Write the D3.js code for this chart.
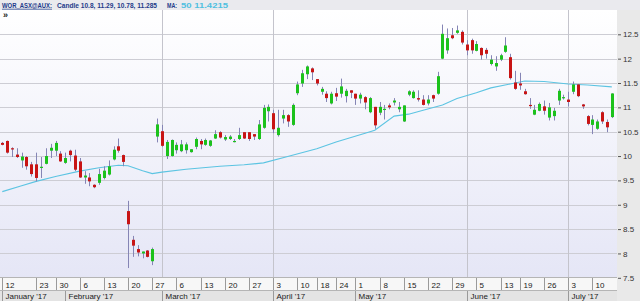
<!DOCTYPE html>
<html>
<head>
<meta charset="utf-8">
<script src="https://cdnjs.cloudflare.com/ajax/libs/d3/7.8.5/d3.min.js"></script>
<style>
  html, body { margin: 0; padding: 0; background: #fff; }
  svg { display: block; }
  text { font-family: "Liberation Sans", Arial, sans-serif; }
</style>
</head>
<body>
<div id="chart"></div>
<script>
// trading days on the chart, per month of 2017
var months = ["2017-01", "2017-02", "2017-03", "2017-04", "2017-05", "2017-06", "2017-07"];
var monthNames = ["January '17", "February '17", "March '17", "April '17", "May '17", "June '17", "July '17"];
var tradingDays = [
    [12, 13, 16, 17, 18, 19, 20, 23, 24, 25, 27, 30, 31],
    [1, 2, 3, 6, 7, 8, 9, 10, 13, 14, 15, 16, 17, 20, 21, 22, 23, 24, 27, 28],
    [1, 2, 3, 6, 7, 8, 9, 10, 13, 14, 15, 16, 17, 20, 21, 22, 23, 24, 27, 28, 29, 30, 31],
    [3, 4, 5, 6, 7, 10, 11, 12, 13, 18, 19, 20, 21, 24, 26, 27, 28],
    [1, 2, 3, 4, 5, 8, 9, 10, 11, 12, 15, 16, 17, 18, 19, 22, 23, 24, 25, 26, 29, 30, 31],
    [1, 2, 5, 6, 7, 8, 9, 13, 14, 15, 16, 19, 20, 21, 22, 23, 26, 27, 28, 29, 30],
    [3, 4, 5, 6, 7, 10, 11, 12, 13, 14]
];

var opens = [
    10.27, 10.31, 10.16, 10.03, 9.91, 9.98, 9.83, 9.83, 9.76, 9.84, 10.11, 10.11, 10.05,
    9.86, 10.11, 10.01, 9.89, 9.56, 9.56, 9.41, 9.45, 9.55, 9.62, 9.93, 10.20, 10.02, 8.87, 8.28, 8.09, 8.00, 8.06, 7.84, 10.40,
    10.51, 10.00, 10.00, 10.12, 10.10, 10.12, 10.08, 10.19, 10.31, 10.23, 10.21, 10.36, 10.49, 10.34, 10.35, 10.30, 10.35, 10.49, 10.49, 10.45, 10.35, 10.58, 10.92,
    10.88, 10.43, 10.77, 10.84, 10.64, 11.29, 11.49, 11.68, 11.80, 11.58, 11.32, 11.28, 11.08, 11.29, 11.28, 11.23, 11.35,
    11.28, 11.18, 11.21, 10.90, 11.01, 10.89, 10.95, 11.04, 11.10, 10.96, 10.71, 11.26, 11.19, 11.19, 11.16, 11.08, 11.25, 11.28, 12.00, 12.17, 12.48, 12.53, 12.55,
    12.29, 12.38, 12.16, 12.22, 12.18, 11.89, 11.84, 11.98, 12.14, 12.03, 11.51, 11.49, 11.33, 11.05, 10.85, 10.93, 11.02, 10.79, 10.82, 11.14, 11.19,
    11.16, 11.32, 11.47, 11.06, 10.82, 10.64, 10.56, 10.90, 10.70, 10.80
];
var highs = [
    10.29, 10.32, 10.18, 10.16, 10.07, 10.00, 9.88, 10.07, 9.98, 10.16, 10.25, 10.31, 10.10,
    10.07, 10.13, 10.13, 9.96, 9.69, 9.65, 9.42, 9.74, 9.79, 9.91, 10.20, 10.36, 10.03, 9.08, 8.36, 8.17, 8.04, 8.07, 8.12, 10.77,
    10.64, 10.33, 10.34, 10.28, 10.33, 10.28, 10.14, 10.38, 10.35, 10.36, 10.33, 10.53, 10.51, 10.43, 10.43, 10.35, 10.58, 10.49, 10.49, 10.45, 10.74, 11.05, 11.06,
    10.95, 10.95, 10.95, 10.86, 11.08, 11.53, 11.77, 11.86, 11.82, 11.58, 11.42, 11.33, 11.32, 11.40, 11.59, 11.38, 11.35,
    11.28, 11.30, 11.23, 11.21, 11.01, 11.11, 11.05, 11.08, 11.19, 11.11, 11.04, 11.35, 11.35, 11.35, 11.25, 11.25, 11.26, 11.73, 12.70, 12.62, 12.63, 12.68, 12.58,
    12.38, 12.41, 12.36, 12.23, 12.22, 12.07, 12.05, 12.10, 12.44, 12.10, 11.75, 11.71, 11.38, 11.19, 11.05, 11.10, 11.14, 11.09, 10.99, 11.38, 11.26,
    11.32, 11.53, 11.48, 11.07, 10.84, 10.84, 10.75, 10.92, 10.75, 11.29
];
var lows = [
    10.22, 10.05, 9.98, 9.96, 9.76, 9.72, 9.58, 9.48, 9.55, 9.83, 9.96, 10.00, 9.88,
    9.84, 9.89, 9.69, 9.55, 9.43, 9.38, 9.34, 9.41, 9.52, 9.60, 9.91, 10.07, 9.79, 7.70, 7.93, 7.94, 7.90, 7.92, 7.76, 10.28,
    10.19, 9.94, 9.99, 10.05, 10.08, 10.05, 10.07, 10.14, 10.14, 10.21, 10.19, 10.35, 10.36, 10.31, 10.33, 10.28, 10.33, 10.35, 10.31, 10.33, 10.33, 10.56, 10.71,
    10.47, 10.40, 10.67, 10.60, 10.62, 11.25, 11.42, 11.58, 11.56, 11.45, 11.26, 11.11, 11.06, 11.13, 11.20, 11.10, 11.19,
    11.05, 11.08, 10.96, 10.88, 10.56, 10.84, 10.75, 10.96, 11.04, 10.90, 10.70, 11.23, 11.18, 11.12, 11.04, 11.04, 11.11, 11.26, 11.99, 12.10, 12.40, 12.51, 12.29,
    12.07, 12.10, 12.15, 11.98, 12.00, 11.86, 11.75, 11.95, 12.12, 11.57, 11.36, 11.36, 11.26, 10.97, 10.84, 10.92, 10.85, 10.73, 10.73, 11.05, 11.16,
    11.02, 11.27, 11.21, 10.97, 10.63, 10.45, 10.54, 10.66, 10.49, 10.78
];
var closes = [
    10.23, 10.07, 10.14, 9.98, 9.99, 9.79, 9.63, 9.55, 9.78, 10.00, 10.17, 10.27, 9.89,
    9.96, 10.02, 9.72, 9.56, 9.60, 9.48, 9.36, 9.63, 9.70, 9.79, 10.13, 10.11, 9.88, 8.60, 8.16, 8.02, 8.04, 7.93, 8.09, 10.65,
    10.21, 10.29, 10.33, 10.23, 10.24, 10.24, 10.14, 10.35, 10.24, 10.33, 10.32, 10.45, 10.38, 10.39, 10.40, 10.31, 10.43, 10.36, 10.35, 10.40, 10.65, 10.99, 11.01,
    10.55, 10.58, 10.84, 10.71, 11.05, 11.47, 11.70, 11.84, 11.72, 11.49, 11.38, 11.19, 11.28, 11.22, 11.43, 11.34, 11.30,
    11.18, 11.26, 11.10, 11.19, 10.63, 11.01, 10.97, 11.00, 11.14, 11.01, 11.04, 11.33, 11.32, 11.16, 11.05, 11.16, 11.18, 11.64, 12.51, 12.42, 12.42, 12.58, 12.33,
    12.17, 12.17, 12.30, 12.07, 12.10, 11.98, 11.91, 12.07, 12.27, 11.60, 11.38, 11.45, 11.27, 11.03, 10.95, 11.07, 10.93, 11.00, 10.93, 11.34, 11.21,
    11.11, 11.47, 11.23, 11.02, 10.66, 10.75, 10.71, 10.71, 10.59, 11.285
];

// 50 day moving average, read at a few dates
var maDates = ["2017-01-12", "2017-01-18", "2017-01-23", "2017-01-30", "2017-02-06", "2017-02-10", "2017-02-16",
    "2017-02-20", "2017-02-23", "2017-02-27", "2017-03-01", "2017-03-08", "2017-03-17", "2017-03-24", "2017-03-30",
    "2017-04-06", "2017-04-18", "2017-04-24", "2017-05-03", "2017-05-05", "2017-05-11", "2017-05-16", "2017-05-19",
    "2017-05-25", "2017-05-30", "2017-06-05", "2017-06-08", "2017-06-15", "2017-06-20", "2017-06-26", "2017-07-03",
    "2017-07-07", "2017-07-14"];
var maValues = [9.27, 9.39, 9.48, 9.58, 9.69, 9.76, 9.81,
    9.80, 9.70, 9.64, 9.67, 9.73, 9.79, 9.82, 9.86,
    9.99, 10.15, 10.29, 10.47, 10.53, 10.82, 10.86, 10.94,
    11.05, 11.18, 11.30, 11.40, 11.48, 11.54, 11.53, 11.48,
    11.46, 11.42];
var maLabel = "50 11.4215";

var priceTicks = [7.5, 8, 8.5, 9, 9.5, 10, 10.5, 11, 11.5, 12, 12.5];
var gridMonths = ["2017-03", "2017-04", "2017-06", "2017-07"];

var W = 640, H = 301;
var plotRight = 617, plotTop = 10, plotBottom = 277.5;

var dates = [];
months.forEach(function(m, mi) {
    tradingDays[mi].forEach(function(d) {
        dates.push(m + "-" + (d < 10 ? "0" + d : d));
    });
});
var candles = dates.map(function(d, i) {
    return { date: d, o: opens[i], h: highs[i], l: lows[i], c: closes[i] };
});

var x = d3.scalePoint().domain(dates).range([2.3, 611.8]);
var y = d3.scaleLinear().domain([7.5, 12.5]).range([277.8, 34.3]);

var svg = d3.select("#chart").append("svg")
    .attr("width", W)
    .attr("height", H);

var grad = svg.append("defs").append("linearGradient")
    .attr("id", "bg")
    .attr("x1", 0).attr("y1", 0).attr("x2", 0).attr("y2", 1);
grad.append("stop").attr("offset", "0%").attr("stop-color", "#ffffff");
grad.append("stop").attr("offset", "100%").attr("stop-color", "#e5e6f6");

// backgrounds
svg.append("rect").attr("x", 0).attr("y", plotTop).attr("width", plotRight).attr("height", plotBottom - plotTop)
    .attr("fill", "url(#bg)");
svg.append("rect").attr("x", plotRight).attr("y", plotTop).attr("width", W - plotRight).attr("height", H - plotTop)
    .attr("fill", "#e9e9e9");
svg.append("rect").attr("x", 0).attr("y", 0).attr("width", W).attr("height", plotTop)
    .attr("fill", "#eaeaee");

// horizontal grid
svg.append("g").selectAll("line")
    .data(priceTicks)
    .enter().append("line")
    .attr("x1", 0).attr("x2", plotRight)
    .attr("y1", function(d) { return Math.round(y(d)) + 0.5; })
    .attr("y2", function(d) { return Math.round(y(d)) + 0.5; })
    .attr("stroke", "#cdcdd4");

// vertical grid on month starts
var firstOfMonth = months.map(function(m) {
    return dates.filter(function(d) { return d.indexOf(m) === 0; })[0];
});
svg.append("g").selectAll("line")
    .data(firstOfMonth.filter(function(d) { return gridMonths.indexOf(d.slice(0, 7)) >= 0; }))
    .enter().append("line")
    .attr("x1", function(d) { return Math.round(x(d)) + 0.5; })
    .attr("x2", function(d) { return Math.round(x(d)) + 0.5; })
    .attr("y1", plotTop).attr("y2", plotBottom)
    .attr("stroke", "#c4c4cc");

// moving average
var maLine = d3.line()
    .x(function(d) { return x(d[0]); })
    .y(function(d) { return y(d[1]); });
svg.append("path")
    .datum(maDates.map(function(d, i) { return [d, maValues[i]]; }))
    .attr("d", maLine)
    .attr("fill", "none")
    .attr("stroke", "#5cc4e2")
    .attr("stroke-width", 1.1);

// candles
var candle = svg.append("g").selectAll("g")
    .data(candles)
    .enter().append("g");
candle.append("line")
    .attr("x1", function(d) { return Math.round(x(d.date)) + 0.5; })
    .attr("x2", function(d) { return Math.round(x(d.date)) + 0.5; })
    .attr("y1", function(d) { return y(d.h); })
    .attr("y2", function(d) { return y(d.l); })
    .attr("stroke", "#8585b5")
    .attr("stroke-width", 1);
candle.append("rect")
    .attr("x", function(d) { return Math.round(x(d.date)) - 1; })
    .attr("width", 3)
    .attr("y", function(d) { return y(Math.max(d.o, d.c)); })
    .attr("height", function(d) { return Math.max(1.2, Math.abs(y(d.o) - y(d.c))); })
    .attr("fill", function(d) { return d.c >= d.o ? "#1cc21c" : "#c81414"; });

// right price axis
var yAxis = svg.append("g")
    .attr("transform", "translate(" + (plotRight + 1) + ",0)")
    .call(d3.axisRight(y).tickValues(priceTicks).tickSize(3).tickPadding(2).tickFormat(d3.format("")));
yAxis.select(".domain").remove();
yAxis.selectAll("line").attr("stroke", "#555");
yAxis.selectAll("text")
    .attr("font-family", "Liberation Sans, Arial, sans-serif")
    .attr("font-size", 8)
    .attr("fill", "#333");

// bottom date axis: week row and month row
svg.append("rect").attr("x", 0).attr("y", plotBottom).attr("width", plotRight).attr("height", 13)
    .attr("fill", "#f7f7f7");
svg.append("rect").attr("x", 0).attr("y", 290).attr("width", plotRight).attr("height", 11)
    .attr("fill", "#e4e4e4");
svg.append("line").attr("x1", 0).attr("x2", plotRight).attr("y1", 277.5).attr("y2", 277.5).attr("stroke", "#b5b5b5");
svg.append("line").attr("x1", 0).attr("x2", plotRight).attr("y1", 290.5).attr("y2", 290.5).attr("stroke", "#b5b5b5");

// first trading day of each week, skipping labels that would collide
var weekStarts = [];
dates.forEach(function(d, i) {
    var day = new Date(d + "T00:00:00").getDay();
    var prev = i > 0 ? new Date(dates[i - 1] + "T00:00:00").getDay() : 9;
    if (i === 0 || day <= prev) {
        var last = weekStarts[weekStarts.length - 1];
        if (!last || x(d) - x(last) > 14) weekStarts.push(d);
    }
});
var week = svg.append("g").selectAll("g")
    .data(weekStarts)
    .enter().append("g")
    .attr("transform", function(d) { return "translate(" + (Math.round(x(d)) + 0.5) + ",0)"; });
week.append("line").attr("y1", 278).attr("y2", 290).attr("stroke", "#9a9a9a");
week.append("text")
    .attr("x", 3).attr("y", 287.5)
    .attr("font-size", 8)
    .attr("fill", "#1a1a1a")
    .text(function(d) { return +d.slice(8); });

var month = svg.append("g").selectAll("g")
    .data(firstOfMonth)
    .enter().append("g")
    .attr("transform", function(d) { return "translate(" + (Math.round(x(d)) + 0.5) + ",0)"; });
month.append("line").attr("y1", 291).attr("y2", 301).attr("stroke", "#9a9a9a");
month.append("text")
    .attr("x", 3).attr("y", 298.5)
    .attr("font-size", 8)
    .attr("fill", "#1a1a1a")
    .text(function(d, i) { return monthNames[i]; });

// header: symbol, last candle and last MA value
var lastCandle = candles[candles.length - 1];
var headParts = [
    { text: "WOR_ASX@AUX:", x: 2, w: 50, fill: "#1d3a8a", underline: true },
    { text: "Candle " + [lastCandle.o, lastCandle.h, lastCandle.l, lastCandle.c].join(", "), x: 57, w: 100, fill: "#1d3a8a" },
    { text: "MA:", x: 167, w: 10, fill: "#1d3a8a" },
    { text: maLabel, x: 181, w: 47, fill: "#4fc0e0" }
];
svg.append("g").selectAll("text")
    .data(headParts)
    .enter().append("text")
    .attr("x", function(d) { return d.x; })
    .attr("y", 7.8)
    .attr("font-size", 7)
    .attr("font-weight", "bold")
    .attr("textLength", function(d) { return d.w; })
    .attr("lengthAdjust", "spacingAndGlyphs")
    .attr("text-decoration", function(d) { return d.underline ? "underline" : null; })
    .attr("fill", function(d) { return d.fill; })
    .text(function(d) { return d.text; });

svg.append("text")
    .attr("x", 3).attr("y", 18)
    .attr("font-size", 9)
    .attr("font-weight", "bold")
    .attr("fill", "#222")
    .text("»");
</script>
</body>
</html>
